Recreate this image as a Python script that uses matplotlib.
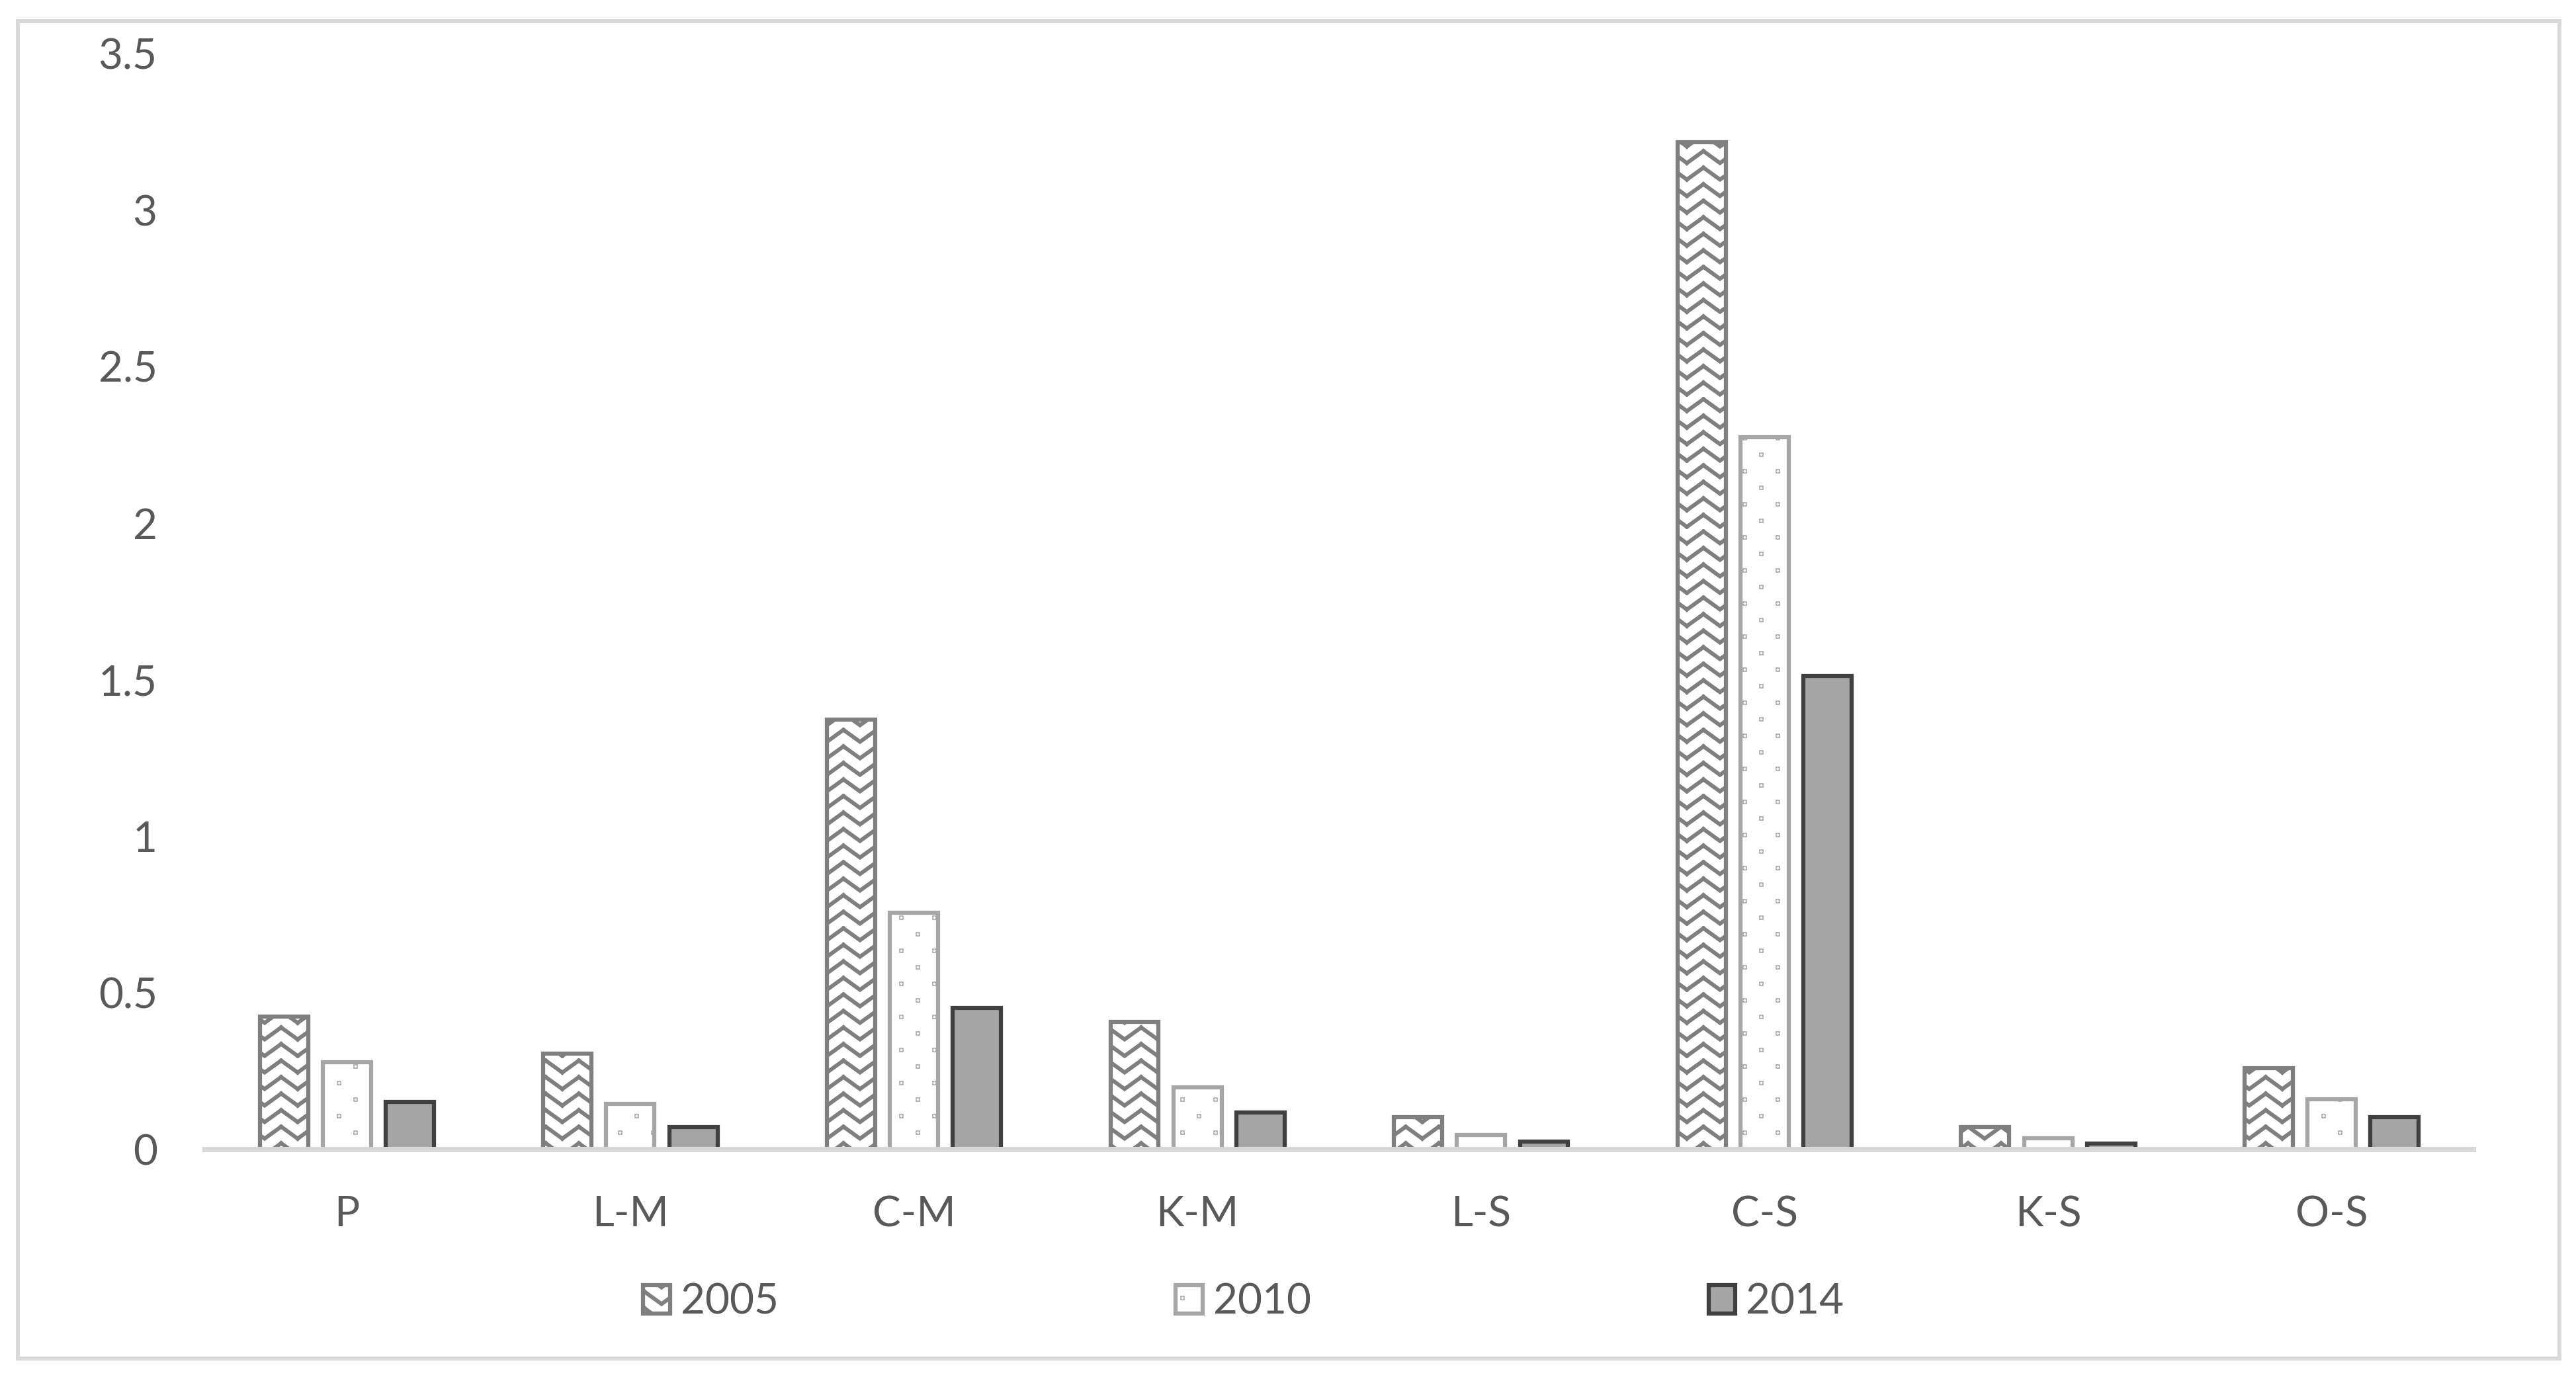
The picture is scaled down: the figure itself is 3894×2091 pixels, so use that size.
import warnings
import numpy as np
import matplotlib
matplotlib.use("Agg")
import matplotlib.pyplot as plt
import matplotlib.hatch as mhatch
from matplotlib.path import Path
from matplotlib.patches import Rectangle

warnings.filterwarnings("ignore")

categories = ["P", "L-M", "C-M", "K-M", "L-S", "C-S", "K-S", "O-S"]
years = ["2005", "2010", "2014"]
v2005 = [0.425, 0.306, 1.372, 0.408, 0.104, 3.217, 0.072, 0.26]
v2010 = [0.278, 0.146, 0.757, 0.198, 0.046, 2.275, 0.036, 0.161]
v2014 = [0.152, 0.071, 0.453, 0.118, 0.025, 1.513, 0.02, 0.103]
yticks = [0, 0.5, 1, 1.5, 2, 2.5, 3, 3.5]
ytick_labels = ["0", "0.5", "1", "1.5", "2", "2.5", "3", "3.5"]


# excel-like fill patterns as extra hatch types ('z' zigzag, 'd' sparse dots)
class ZigZagHatch(mhatch.HatchPatternBase):
    def __init__(self, hatch, density):
        self.num_rows = hatch.count("z") * 4
        self.num_vertices = self.num_rows * 4 * 2

    def set_vertices_and_codes(self, vertices, codes):
        a = 0.09
        xs = [0, 0.25, 0.5, 0.75, 1.0]
        i = 0
        for k in range(self.num_rows):
            y0 = (k + 0.5) / self.num_rows
            ys = [y0 - a, y0 + a, y0 - a, y0 + a, y0 - a]
            for j in range(4):
                vertices[i] = (xs[j], ys[j])
                vertices[i + 1] = (xs[j + 1], ys[j + 1])
                codes[i] = Path.MOVETO
                codes[i + 1] = Path.LINETO
                i += 2


class SparseDotHatch(mhatch.HatchPatternBase):
    def __init__(self, hatch, density):
        self.n = hatch.count("d")
        self.num_vertices = self.n * 8 * 5

    def set_vertices_and_codes(self, vertices, codes):
        s = 0.003
        pts = []
        for r in range(4):
            y = 0.125 + r * 0.25
            for c in range(2):
                x = (0.125 if r % 2 == 0 else 0.375) + c * 0.5
                pts.append((x, y))
        i = 0
        for (x, y) in pts * self.n:
            sq = [(x - s, y - s), (x + s, y - s), (x + s, y + s), (x - s, y + s), (x - s, y - s)]
            for j, p in enumerate(sq):
                vertices[i + j] = p
            codes[i] = Path.MOVETO
            codes[i + 1:i + 4] = Path.LINETO
            codes[i + 4] = Path.CLOSEPOLY
            i += 5


mhatch._hatch_types.append(ZigZagHatch)
mhatch._hatch_types.append(SparseDotHatch)

plt.rcParams["font.family"] = ["Lato", "DejaVu Sans"]
plt.rcParams["hatch.linewidth"] = 4.3

fig = plt.figure(figsize=(38.94, 20.91), dpi=100)
ax = fig.add_axes([0.0796, 0.1688, 0.8806, 0.7925])

x = np.arange(len(categories))
w = 0.17
step = 0.222

b05 = ax.bar(x - step, v2005, w, facecolor="white", edgecolor="#7f7f7f",
             linewidth=4.5, hatch="z")
b10 = ax.bar(x, v2010, w, facecolor="white", edgecolor="#a6a6a6",
             linewidth=4.5, hatch="d")
b14 = ax.bar(x + step, v2014, w, facecolor="#a5a5a5", edgecolor="#404040",
             linewidth=4.5)

ax.set_xlim(-0.5, len(categories) - 0.5)
ax.set_ylim(0, 3.5)
ax.set_xticks(x)
ax.set_xticklabels(categories)
ax.set_yticks(yticks)
ax.set_yticklabels(ytick_labels)

for s in ["left", "right", "top"]:
    ax.spines[s].set_visible(False)
ax.spines["bottom"].set_color("#d9d9d9")
ax.spines["bottom"].set_linewidth(5.8)

ax.tick_params(length=0, labelsize=46, labelcolor="#595959")
ax.tick_params(axis="x", pad=50)
ax.tick_params(axis="y", pad=52)

fig.legend([b05, b10, b14], years, loc="center", bbox_to_anchor=(0.4827, 0.0585),
           ncol=3, frameon=False, fontsize=46, handlelength=0.64, handleheight=0.66,
           handletextpad=0.25, columnspacing=9.4, labelcolor="#595959", borderpad=0)

# outer chart-area border
fig.add_artist(Rectangle((0.0069, 0.0177), 0.9866, 0.9670, transform=fig.transFigure,
                         fill=False, edgecolor="#d9d9d9", linewidth=4.3))

fig.savefig("out.png", dpi=100)
